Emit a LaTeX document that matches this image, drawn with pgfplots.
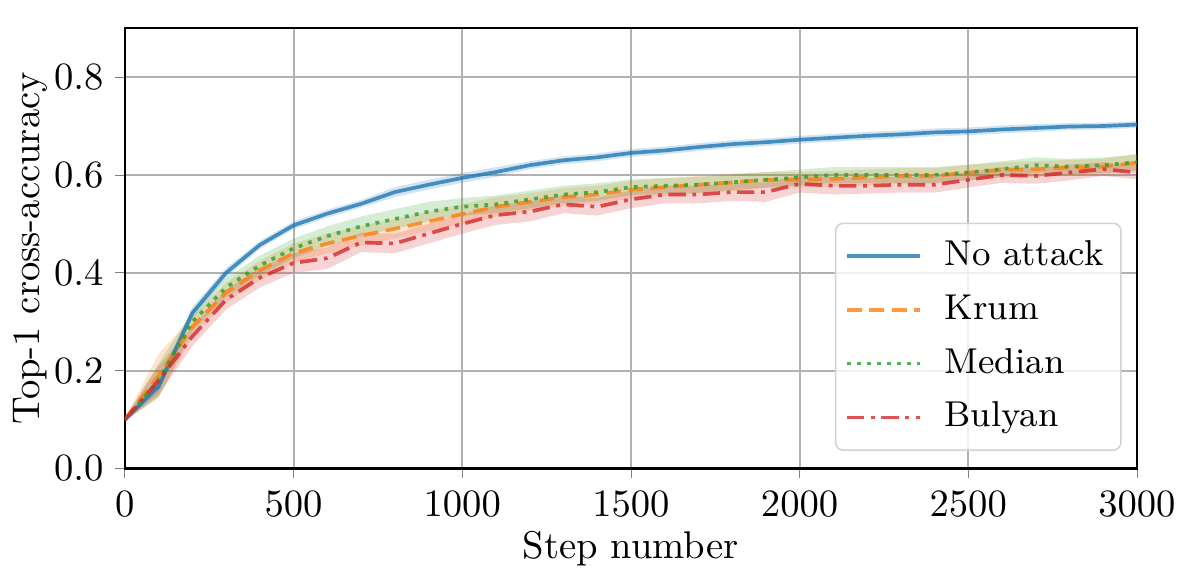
\documentclass[border=0pt]{standalone}
\usepackage{pgfplots}
\pgfplotsset{compat=1.18}
\usepackage{pgfplotstable}
\usepgfplotslibrary{fillbetween}

\definecolor{tabblue}{HTML}{1F77B4}
\definecolor{taborange}{HTML}{FF7F0E}
\definecolor{tabgreen}{HTML}{2CA02C}
\definecolor{tabred}{HTML}{D62728}

% step, mean, std
\pgfplotstableread{
x m s
0 0.100 0.003
100 0.168 0.012
200 0.318 0.012
300 0.400 0.010
400 0.457 0.008
500 0.497 0.008
600 0.521 0.008
700 0.541 0.008
800 0.565 0.010
900 0.580 0.010
1000 0.594 0.010
1100 0.606 0.010
1200 0.620 0.008
1300 0.630 0.008
1400 0.636 0.008
1500 0.645 0.008
1600 0.650 0.008
1700 0.657 0.008
1800 0.663 0.008
1900 0.667 0.008
2000 0.672 0.008
2100 0.676 0.008
2200 0.680 0.008
2300 0.683 0.008
2400 0.687 0.008
2500 0.689 0.008
2600 0.693 0.008
2700 0.696 0.008
2800 0.699 0.007
2900 0.700 0.007
3000 0.703 0.007
}\noattack

\pgfplotstableread{
x m s
0 0.100 0.003
100 0.190 0.045
200 0.290 0.020
300 0.360 0.020
400 0.405 0.020
500 0.440 0.020
600 0.460 0.020
700 0.476 0.020
800 0.490 0.020
900 0.505 0.020
1000 0.520 0.020
1100 0.535 0.020
1200 0.545 0.018
1300 0.555 0.018
1400 0.560 0.018
1500 0.570 0.018
1600 0.575 0.018
1700 0.580 0.018
1800 0.585 0.018
1900 0.590 0.016
2000 0.590 0.016
2100 0.592 0.016
2200 0.595 0.016
2300 0.598 0.016
2400 0.598 0.016
2500 0.605 0.016
2600 0.610 0.016
2700 0.612 0.016
2800 0.615 0.016
2900 0.617 0.016
3000 0.625 0.018
}\krum

\pgfplotstableread{
x m s
0 0.100 0.003
100 0.180 0.035
200 0.300 0.020
300 0.370 0.020
400 0.415 0.020
500 0.450 0.020
600 0.475 0.020
700 0.495 0.020
800 0.510 0.020
900 0.525 0.020
1000 0.535 0.018
1100 0.540 0.018
1200 0.550 0.018
1300 0.560 0.018
1400 0.565 0.018
1500 0.575 0.016
1600 0.578 0.016
1700 0.580 0.016
1800 0.585 0.016
1900 0.590 0.016
2000 0.595 0.016
2100 0.600 0.016
2200 0.600 0.016
2300 0.600 0.016
2400 0.600 0.016
2500 0.605 0.016
2600 0.612 0.016
2700 0.620 0.016
2800 0.617 0.016
2900 0.620 0.016
3000 0.626 0.016
}\median

\pgfplotstableread{
x m s
0 0.100 0.003
100 0.180 0.030
200 0.270 0.020
300 0.345 0.020
400 0.390 0.020
500 0.420 0.020
600 0.430 0.022
700 0.462 0.020
800 0.460 0.020
900 0.480 0.020
1000 0.500 0.020
1100 0.518 0.020
1200 0.525 0.020
1300 0.540 0.018
1400 0.535 0.018
1500 0.550 0.018
1600 0.560 0.018
1700 0.560 0.018
1800 0.565 0.018
1900 0.565 0.020
2000 0.582 0.018
2100 0.578 0.018
2200 0.578 0.016
2300 0.580 0.016
2400 0.580 0.016
2500 0.590 0.016
2600 0.600 0.016
2700 0.598 0.016
2800 0.605 0.016
2900 0.612 0.014
3000 0.605 0.014
}\bulyan

\begin{document}
\begin{tikzpicture}
\begin{axis}[
    scale only axis,
    width=262pt, height=114pt,
    xmin=0, xmax=3000,
    ymin=0, ymax=0.9,
    xtick={0,500,...,3000},
    ytick={0,0.2,...,0.8},
    yticklabel style={/pgf/number format/fixed, /pgf/number format/fixed zerofill, /pgf/number format/precision=1, xshift=0.5pt},
    scaled x ticks=false,
    xticklabel style={/pgf/number format/1000 sep={}},
    grid=major,
    major grid style={gray!60, line width=0.5pt},
    tick align=outside,
    tick pos=left,
    major tick length=2.5pt,
    axis line style={line width=0.6pt},
    xlabel={Step number},
    ylabel={Top-1 cross-accuracy},
    xlabel style={yshift=3pt},
    ylabel style={yshift=-5pt},
    legend style={at={(0.985,0.04)}, anchor=south east, rounded corners=2pt,
        draw=gray!35, fill=white, fill opacity=0.8, text opacity=1,
        font=\fontsize{9.3}{11}\selectfont,
        row sep=2pt, inner sep=2.5pt},
    legend cell align=left,
    legend image code/.code={\draw[#1] (0cm,0cm) -- (0.66cm,0cm); \path (0.8cm,0cm);},
]
% bands
\addplot[draw=none, forget plot, name path=au] table[x=x, y expr=\thisrow{m}+\thisrow{s}] {\noattack};
\addplot[draw=none, forget plot, name path=al] table[x=x, y expr=\thisrow{m}-\thisrow{s}] {\noattack};
\addplot[tabblue, fill opacity=0.2, forget plot] fill between[of=au and al];
\addplot[draw=none, forget plot, name path=ku] table[x=x, y expr=\thisrow{m}+\thisrow{s}] {\krum};
\addplot[draw=none, forget plot, name path=kl] table[x=x, y expr=\thisrow{m}-\thisrow{s}] {\krum};
\addplot[taborange, fill opacity=0.2, forget plot] fill between[of=ku and kl];
\addplot[draw=none, forget plot, name path=mu] table[x=x, y expr=\thisrow{m}+\thisrow{s}] {\median};
\addplot[draw=none, forget plot, name path=ml] table[x=x, y expr=\thisrow{m}-\thisrow{s}] {\median};
\addplot[tabgreen, fill opacity=0.2, forget plot] fill between[of=mu and ml];
\addplot[draw=none, forget plot, name path=bu] table[x=x, y expr=\thisrow{m}+\thisrow{s}] {\bulyan};
\addplot[draw=none, forget plot, name path=bl] table[x=x, y expr=\thisrow{m}-\thisrow{s}] {\bulyan};
\addplot[tabred, fill opacity=0.2, forget plot] fill between[of=bu and bl];
% means
\addplot[tabblue, draw opacity=0.8, line width=0.95pt] table[x=x, y=m] {\noattack};
\addlegendentry{No attack}
\addplot[taborange, draw opacity=0.8, line width=0.95pt, dash pattern=on 3.8pt off 2pt] table[x=x, y=m] {\krum};
\addlegendentry{Krum}
\addplot[tabgreen, draw opacity=0.8, line width=0.95pt, dash pattern=on 1pt off 1.6pt] table[x=x, y=m] {\median};
\addlegendentry{Median}
\addplot[tabred, draw opacity=0.8, line width=0.95pt, dash pattern=on 4.5pt off 1.7pt on 1pt off 1.7pt] table[x=x, y=m] {\bulyan};
\addlegendentry{Bulyan}
\end{axis}
\path (current axis.north west) ++(0,7.3pt);
\path (current axis.south east) ++(15.3pt,0);
\end{tikzpicture}
\end{document}
